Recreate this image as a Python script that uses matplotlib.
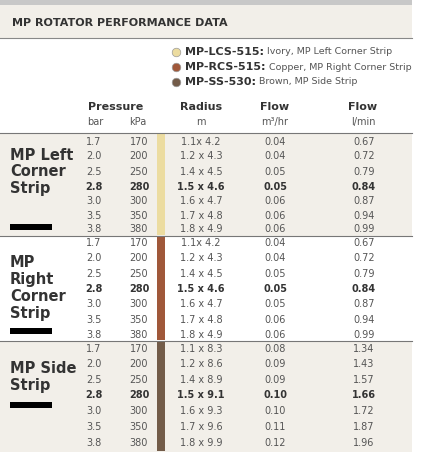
import matplotlib.pyplot as plt
from matplotlib.patches import Rectangle

bar = ['1.7', '2.0', '2.5', '2.8', '3.0', '3.5', '3.8']
kpa = ['170', '200', '250', '280', '300', '350', '380']
radius_lcs = ['1.1x 4.2', '1.2 x 4.3', '1.4 x 4.5', '1.5 x 4.6', '1.6 x 4.7', '1.7 x 4.8', '1.8 x 4.9']
m3_lcs = ['0.04', '0.04', '0.05', '0.05', '0.06', '0.06', '0.06']
lmin_lcs = ['0.67', '0.72', '0.79', '0.84', '0.87', '0.94', '0.99']
radius_rcs = radius_lcs
m3_rcs = ['0.04', '0.04', '0.05', '0.05', '0.05', '0.06', '0.06']
lmin_rcs = ['0.67', '0.72', '0.79', '0.84', '0.87', '0.94', '0.99']
radius_ss = ['1.1 x 8.3', '1.2 x 8.6', '1.4 x 8.9', '1.5 x 9.1', '1.6 x 9.3', '1.7 x 9.6', '1.8 x 9.9']
m3_ss = ['0.08', '0.09', '0.09', '0.10', '0.10', '0.11', '0.12']
lmin_ss = ['1.34', '1.43', '1.57', '1.66', '1.72', '1.87', '1.96']

sections = [
    ('MP Left\nCorner\nStrip', '#ecdca0', radius_lcs, m3_lcs, lmin_lcs),
    ('MP\nRight\nCorner\nStrip', '#a0583a', radius_rcs, m3_rcs, lmin_rcs),
    ('MP Side\nStrip', '#735c49', radius_ss, m3_ss, lmin_ss),
]
legend = [('MP-LCS-515:', ' Ivory, MP Left Corner Strip'),
          ('MP-RCS-515:', ' Copper, MP Right Corner Strip'),
          ('MP-SS-530:', ' Brown, MP Side Strip')]

BG = '#f2efe9'
TXT = '#555555'
DARK = '#333333'

fig = plt.figure(figsize=(4.22, 4.54), dpi=100)
ax = fig.add_axes([0, 0, 1, 1])
ax.set_xlim(0, 422)
ax.set_ylim(454, 0)
ax.axis('off')

# title band
ax.add_patch(Rectangle((0, 0), 412, 5, color='#c8c8c8', lw=0))
ax.add_patch(Rectangle((0, 5), 412, 33, color=BG, lw=0))
ax.plot([0, 412], [38, 38], color='#888888', lw=0.8)
ax.text(12, 23, 'MP ROTATOR PERFORMANCE DATA', fontsize=8, weight='bold',
        color=DARK, va='center')

# legend
fig.canvas.draw()
for i, (code, desc) in enumerate(legend):
    y = 52 + i * 15
    ax.scatter(176, y, s=38, color=sections[i][1], edgecolor='#999999', lw=0.5)
    t = ax.text(185, y, code, fontsize=8, weight='bold', color=DARK, va='center')
    bb = t.get_window_extent(renderer=fig.canvas.get_renderer())
    ax.annotate(desc, xy=(bb.x1, fig.bbox.height * (1 - y / 454)),
                xycoords='figure pixels', fontsize=6.8, color=TXT, va='center')

# header
ax.text(116, 107, 'Pressure', fontsize=8, weight='bold', color=DARK, ha='center', va='center')
ax.text(95, 122, 'bar', fontsize=7, color=TXT, ha='center', va='center')
ax.text(138, 122, 'kPa', fontsize=7, color=TXT, ha='center', va='center')
ax.text(201, 107, 'Radius', fontsize=8, weight='bold', color=DARK, ha='center', va='center')
ax.text(201, 122, 'm', fontsize=7, color=TXT, ha='center', va='center')
ax.text(275, 107, 'Flow', fontsize=8, weight='bold', color=DARK, ha='center', va='center')
ax.text(275, 122, 'm³/hr', fontsize=7, color=TXT, ha='center', va='center')
ax.text(363, 107, 'Flow', fontsize=8, weight='bold', color=DARK, ha='center', va='center')
ax.text(363, 122, 'l/min', fontsize=7, color=TXT, ha='center', va='center')

tops = [133, 236, 341]
bottoms = [236, 341, 452]
row_y = [[142, 156, 172, 187, 201, 216, 229],
         [243, 258, 274, 289, 304, 320, 335],
         [349, 364, 380, 395, 411, 427, 443]]
label_y = [172, 288, 377]
black_y = [227, 331, 405]

for k, (name, col, rad, m3, lmin) in enumerate(sections):
    top, bot = tops[k], bottoms[k]
    if k != 1:
        ax.add_patch(Rectangle((0, top), 412, bot - top, color=BG, lw=0))
    ax.plot([0, 412], [top, top], color='#777777', lw=0.8)
    ax.add_patch(Rectangle((157, top + 1), 8, bot - top - 2, color=col, lw=0))
    ax.text(10, label_y[k], name, fontsize=10.5, weight='bold', color=DARK,
            va='center', linespacing=1.15)
    ax.add_patch(Rectangle((10, black_y[k] - 3), 42, 6, color='black', lw=0))
    for j, y in enumerate(row_y[k]):
        w = 'bold' if j == 3 else 'normal'
        c = DARK if j == 3 else TXT
        kw = dict(fontsize=7, weight=w, color=c, va='center', ha='center')
        ax.text(94, y, bar[j], **kw)
        ax.text(139, y, kpa[j], **kw)
        ax.text(201, y, rad[j], **kw)
        ax.text(275, y, m3[j], **kw)
        ax.text(364, y, lmin[j], **kw)

fig.savefig('out.png', dpi=100)
